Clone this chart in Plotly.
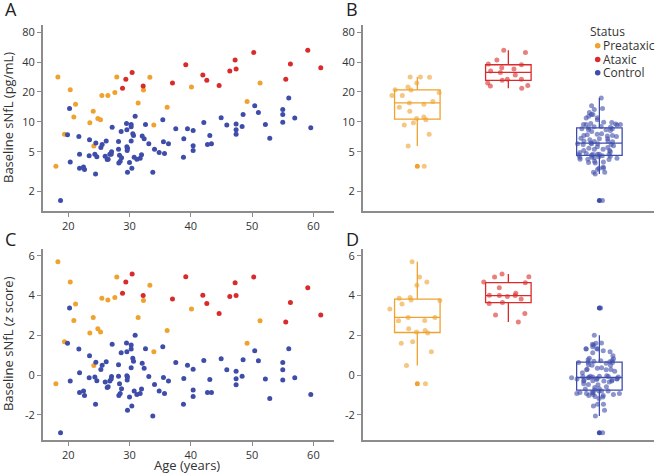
import numpy as np
import plotly.graph_objects as go

# ---------------- data ----------------
age_pre = [18.32, 20.33, 21.20, 20.92, 19.40, 17.99, 24.08, 23.53, 24.84, 25.27, 24.18, 25.49,
           26.47, 27.61, 27.93, 31.41, 32.28, 33.32, 33.97, 36.14, 40.11, 51.30, 49.18]
snfl_pre = [28.3, 21.1, 15.0, 11.2, 7.5, 3.56, 12.8, 9.8, 10.8, 10.5, 5.7, 18.4,
            18.4, 19.7, 28.3, 15.5, 20.9, 28.1, 9.3, 14.0, 22.4, 24.6, 16.0]
z_pre = [5.7, 4.68, 3.58, 2.75, 1.68, -0.43, 2.9, 2.12, 2.33, 2.17, 0.48, 3.87,
         3.78, 3.9, 4.93, 2.9, 3.75, 4.52, 1.18, 2.25, 3.32, 2.73, 1.6]

age_atx = [28.86, 29.40, 30.43, 32.23, 37.01, 39.18, 41.96, 42.61, 44.62, 46.36, 47.23, 47.39,
           50.27, 55.49, 56.25, 59.08, 61.20]
snfl_atx = [21.8, 26.8, 31.5, 23.0, 24.6, 37.6, 29.6, 26.2, 23.3, 32.5, 41.9, 34.0,
            50.0, 26.8, 38.2, 52.8, 35.1]
z_atx = [4.12, 4.68, 5.08, 4.0, 3.83, 4.95, 4.02, 3.6, 3.1, 3.95, 4.65, 4.0,
         4.93, 2.67, 3.65, 4.4, 3.02]

age_ctl = [18.75, 19.89, 20.22, 20.33, 21.74, 21.85, 21.85, 22.50, 22.66, 23.48, 23.42, 24.35,
           24.51, 24.67, 24.46, 25.33, 25.54, 26.03, 26.20, 26.36, 26.52, 26.79, 27.07, 27.17,
           27.01, 28.21, 28.21, 28.26, 28.37, 28.48, 28.64, 28.70, 29.51, 29.57, 29.57, 29.67,
           29.62, 29.67, 30.00, 30.27, 30.27, 30.27, 30.38, 30.54, 30.65, 30.76, 30.92, 31.20,
           31.74, 31.96, 32.07, 32.39, 32.61, 33.15, 33.80, 34.08, 34.84, 35.43, 35.54, 35.71,
           36.36, 37.55, 38.80, 38.86, 39.46, 40.38, 40.38, 40.38, 42.12, 42.72, 43.10, 43.37,
           44.95, 45.87, 47.39, 47.39, 47.39, 48.37, 48.53, 50.43, 51.03, 52.17, 52.88, 55.0,
           55.0, 55.0, 55.98, 56.96, 59.57]
snfl_ctl = [1.61, 7.4, 13.6, 3.94, 7.1, 4.7, 3.4, 3.5, 3.3, 6.6, 4.56, 4.7,
            6.1, 4.45, 2.98, 5.5, 5.9, 4.5, 6.4, 4.16, 4.2, 4.7, 5.0, 8.8,
            4.7, 6.35, 5.3, 3.85, 4.6, 4.0, 8.0, 4.35, 9.6, 8.3, 5.6, 5.4,
            5.15, 3.1, 3.9, 9.4, 8.9, 6.4, 3.4, 7.6, 7.3, 4.4, 11.4, 4.2,
            4.3, 4.65, 7.2, 6.75, 9.4, 6.0, 3.1, 5.3, 4.9, 10.5, 6.3, 4.8,
            6.0, 8.5, 4.4, 6.75, 8.5, 8.2, 5.75, 5.15, 9.85, 5.9, 7.3, 6.0,
            10.97, 9.3, 9.5, 8.3, 7.5, 8.98, 11.85, 14.5, 12.4, 9.4, 6.85, 13.3,
            11.85, 9.9, 17.4, 10.9, 8.7]
z_ctl = [-2.9, 1.6, 3.37, -0.3, 1.32, 0.12, -0.87, -0.8, -1.03, 0.98, -0.13, -0.1,
         0.65, -0.28, -1.47, 0.28, 0.5, -0.35, 0.67, -0.62, -0.58, -0.3, -0.07, 1.55,
         -0.2, 0.52, -0.05, -1.02, -0.43, -0.93, 1.13, -0.68, 1.62, 1.18, -0.03, -0.1,
         -0.25, -1.77, -1.1, 1.52, 1.32, 0.37, -1.55, 0.85, 0.7, -0.8, 2.0, -0.97,
         -0.93, -0.7, 0.6, 0.35, 1.33, -0.07, -2.05, -0.47, -0.8, 1.43, -0.12, -0.92,
         -0.3, 0.63, -1.47, -0.17, 0.5, 0.3, -0.75, -1.08, 0.73, -0.87, -0.22, -0.87,
         0.82, 0.27, 0.2, -0.18, -0.48, -0.05, 0.77, 1.23, 0.72, -0.2, -1.18, 0.63,
         0.27, -0.25, 1.33, -0.13, -0.98]

groups = ["Preataxic", "Ataxic", "Control"]
snfl_ticks = [2, 5, 10, 20, 40, 80]
z_ticks = [-2, 0, 2, 4, 6]
age_ticks = [20, 30, 40, 50, 60]

colors = {"Preataxic": "#EFA22E", "Ataxic": "#D92B2B", "Control": "#3F4DAA"}
jit_colors = {"Preataxic": "rgba(239,162,46,0.6)", "Ataxic": "rgba(217,43,43,0.6)",
              "Control": "rgba(63,77,170,0.6)"}

data = {
    "Preataxic": (age_pre, snfl_pre, z_pre),
    "Ataxic": (age_atx, snfl_atx, z_atx),
    "Control": (age_ctl, snfl_ctl, z_ctl),
}

fig = go.Figure()

for g in groups:
    age, snfl, z = data[g]
    lsn = np.log10(snfl)
    fig.add_trace(go.Scatter(x=age, y=lsn, mode="markers", name=g,
                             marker=dict(color=colors[g], size=5), xaxis="x", yaxis="y",
                             hoverinfo="skip"))
    fig.add_trace(go.Scatter(x=age, y=z, mode="markers", name=g,
                             marker=dict(color=colors[g], size=5), xaxis="x3", yaxis="y3",
                             hoverinfo="skip"))
    for vals, xa, ya in ((lsn, "x2", "y2"), (z, "x4", "y4")):
        # jittered points
        fig.add_trace(go.Box(x=[g] * len(vals), y=vals, name=g,
                             boxpoints="all", jitter=1.0, pointpos=0, width=0.62,
                             line=dict(color="rgba(0,0,0,0)", width=0),
                             fillcolor="rgba(255,255,255,0)",
                             marker=dict(color=jit_colors[g], size=5),
                             xaxis=xa, yaxis=ya, hoverinfo="skip"))
        # box with outliers
        fig.add_trace(go.Box(x=[g] * len(vals), y=vals, name=g,
                             boxpoints="outliers", width=0.5, whiskerwidth=0,
                             quartilemethod="inclusive",
                             line=dict(color=colors[g], width=1.3),
                             fillcolor="rgba(255,255,255,0)",
                             marker=dict(color=colors[g], size=5),
                             xaxis=xa, yaxis=ya, hoverinfo="skip"))

W, H = 655, 476
def px_x(a, b):
    return [a / W, b / W]
def px_y(top, bottom):
    return [(H - bottom) / H, (H - top) / H]

LC = "#8c8c8c"
TXT = "#333333"
axis_common = dict(showline=True, linecolor=LC, linewidth=1.5, ticks="outside",
                   ticklen=4, tickcolor=LC, tickwidth=1, showgrid=False, zeroline=False,
                   tickfont=dict(size=11, color=TXT))
cat_axis = dict(showline=True, linecolor=LC, linewidth=1.5, ticks="", showgrid=False,
                zeroline=False, showticklabels=False, type="category",
                categoryorder="array", categoryarray=groups, range=[-0.6, 2.6])
snfl_y = dict(range=[0.10, 1.98], tickvals=np.log10(snfl_ticks),
              ticktext=[str(t) for t in snfl_ticks], **axis_common)
z_y = dict(range=[-3.27, 6.33], tickvals=z_ticks,
           ticktext=["-2" if t == -2 else str(t) for t in z_ticks], **axis_common)

fig.update_layout(
    width=W, height=H, margin=dict(l=0, r=0, t=0, b=0),
    paper_bgcolor="white", plot_bgcolor="white",
    font=dict(family="Open Sans", color=TXT),
    boxmode="overlay", showlegend=False,
    xaxis=dict(domain=px_x(42.7, 334), range=[15.84, 63.36], tickvals=age_ticks,
               anchor="y", **axis_common),
    yaxis=dict(domain=px_y(22.7, 210), anchor="x", **snfl_y),
    xaxis2=dict(domain=px_x(362.7, 654), anchor="y2", **cat_axis),
    yaxis2=dict(domain=px_y(22.7, 210), anchor="x2", **snfl_y),
    xaxis3=dict(domain=px_x(42.7, 334), range=[15.84, 63.36], tickvals=age_ticks,
                anchor="y3", **axis_common),
    yaxis3=dict(domain=px_y(248.3, 440), anchor="x3", **z_y),
    xaxis4=dict(domain=px_x(362.7, 654), anchor="y4", **cat_axis),
    yaxis4=dict(domain=px_y(248.3, 440), anchor="x4", **z_y),
)

# panel letters
for letter, lx, ly in (("A", 3, -7), ("B", 344, -7), ("C", 3, 224), ("D", 344, 224)):
    fig.add_annotation(xref="paper", yref="paper", x=lx / W, y=1 - ly / H,
                       xanchor="left", yanchor="top", text=letter, showarrow=False,
                       font=dict(size=18, color="#222222"))

# axis titles
fig.add_annotation(xref="paper", yref="paper", x=7.5 / W, y=(H - 116) / H, textangle=-90,
                   text="Baseline sNfL (pg/mL)", showarrow=False, xanchor="center",
                   yanchor="middle", font=dict(size=13, color=TXT))
fig.add_annotation(xref="paper", yref="paper", x=7.5 / W, y=(H - 343) / H, textangle=-90,
                   text="Baseline sNfL (<i>z</i> score)", showarrow=False, xanchor="center",
                   yanchor="middle", font=dict(size=13, color=TXT))
fig.add_annotation(xref="paper", yref="paper", x=187.5 / W, y=(H - 465) / H,
                   text="Age (years)", showarrow=False, xanchor="center", yanchor="middle",
                   font=dict(size=13, color=TXT))

# legend (drawn compactly, as in the reference)
fig.add_annotation(xref="paper", yref="paper", x=588 / W, y=(H - 29.7) / H,
                   text="Status", showarrow=False, xanchor="left", yanchor="middle",
                   font=dict(size=12, color=TXT))
for g, ly in zip(groups, (44.0, 57.7, 71.0)):
    fig.add_shape(type="circle", xref="paper", yref="paper",
                  x0=(597.7 - 2.8) / W, x1=(597.7 + 2.8) / W,
                  y0=(H - ly - 2.8) / H, y1=(H - ly + 2.8) / H,
                  fillcolor=colors[g], line=dict(width=0))
    fig.add_annotation(xref="paper", yref="paper", x=601 / W, y=(H - ly) / H,
                       text=g, showarrow=False, xanchor="left", yanchor="middle",
                       font=dict(size=12, color=TXT))

fig.write_html("out.html", config={"displayModeBar": False},
               post_script="document.body.style.margin='0px';")
